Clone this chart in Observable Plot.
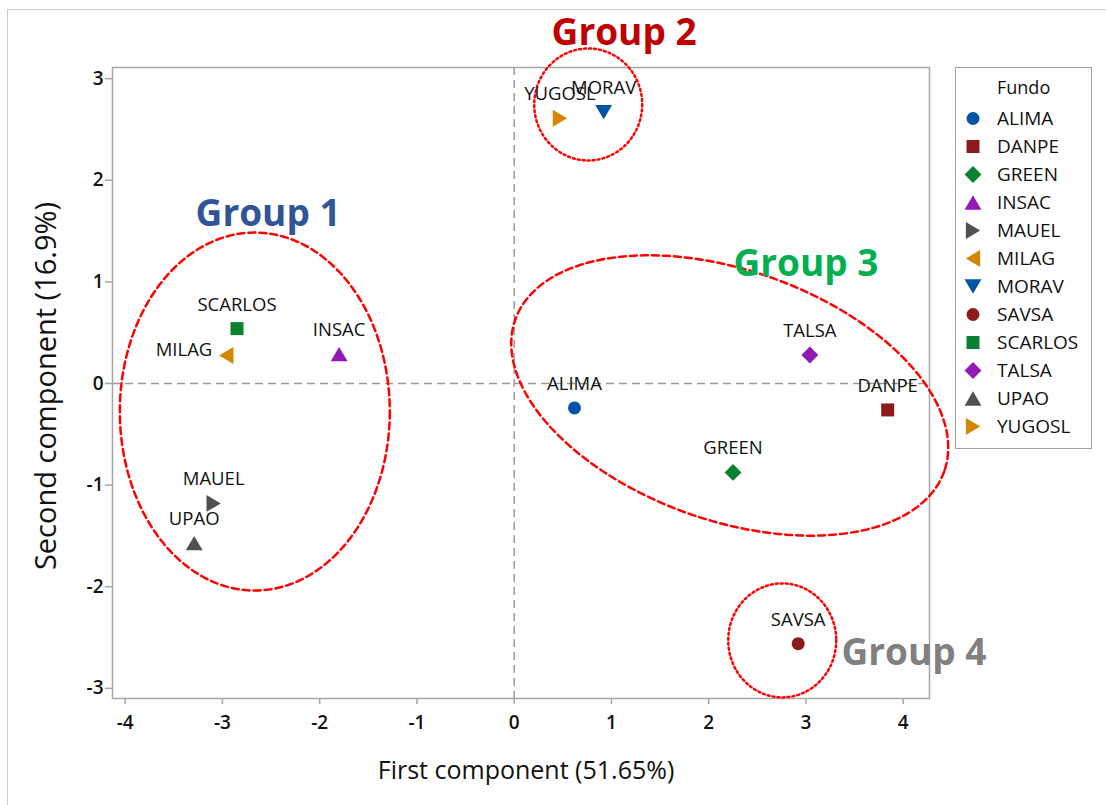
<!DOCTYPE html>
<html>
<head>
<meta charset="utf-8">
<script src="https://cdn.jsdelivr.net/npm/d3@7"></script>
<script src="https://cdn.jsdelivr.net/npm/@observablehq/plot@0.6"></script>
<style>
  body { margin: 0; background: #fff; width: 1106px; height: 805px; overflow: hidden; position: relative; font-family: "Open Sans", sans-serif; }
  #outer { position: absolute; left: 7px; top: 9px; width: 1200px; height: 900px; border-left: 1px solid #cfcfcf; border-top: 1px solid #cfcfcf; }
  #chart { position: absolute; left: 0; top: 0; }
  #legend { position: absolute; left: 955px; top: 67px; width: 135px; height: 380px; border: 1.5px solid #a0a0a0; background: #fff; }
  #legend svg, #chart svg { display: block; }
</style>
</head>
<body>
<div id="outer"></div>
<div id="chart"></div>
<div id="legend"></div>
<script>
// ---- data ----
const fundos = ["ALIMA","DANPE","GREEN","INSAC","MAUEL","MILAG","MORAV","SAVSA","SCARLOS","TALSA","UPAO","YUGOSL"];
const pc1 = [0.62, 3.84, 2.25, -1.80, -3.09, -2.96, 0.92, 2.92, -2.85, 3.04, -3.29, 0.47];
const pc2 = [-0.24, -0.26, -0.875, 0.29, -1.18, 0.275, 2.67, -2.56, 0.54, 0.28, -1.57, 2.61];
const xTicks = [-4, -3, -2, -1, 0, 1, 2, 3, 4];
const yTicks = [-3, -2, -1, 0, 1, 2, 3];
const groupNames = ["Group 1", "Group 2", "Group 3", "Group 4"];
const groupLabelX = [-2.53, 1.13, 3.0, 4.11];
const groupLabelY = [1.67, 3.445, 1.17, -2.65];

// ---- styles ----
const colors = ["#0054a6","#8e1b1b","#0b8030","#8f1ab5","#505050","#d18700","#0054a6","#8e1b1b","#0b8030","#8f1ab5","#505050","#d18700"];
const groupColors = ["#2f5597","#c00000","#00b050","#808080"];
const kinds = ["circle","square","diamond","up","right","left","down","circle","square","diamond","up","right"];

function sym(kind) {
  return { draw(ctx, size) {
    const r = Math.sqrt(size / Math.PI);
    if (kind === "circle") { ctx.moveTo(r, 0); ctx.arc(0, 0, r, 0, 2 * Math.PI); }
    else if (kind === "square") { ctx.rect(-r, -r, 2 * r, 2 * r); }
    else if (kind === "diamond") { const d = 1.3 * r; ctx.moveTo(0, -d); ctx.lineTo(d, 0); ctx.lineTo(0, d); ctx.lineTo(-d, 0); ctx.closePath(); }
    else {
      const s = 1.3 * r, h = 1.1 * r;
      if (kind === "up") { ctx.moveTo(0, -h); ctx.lineTo(s, h); ctx.lineTo(-s, h); }
      else if (kind === "down") { ctx.moveTo(0, h); ctx.lineTo(s, -h); ctx.lineTo(-s, -h); }
      else if (kind === "right") { ctx.moveTo(h, 0); ctx.lineTo(-h, -s); ctx.lineTo(-h, s); }
      else { ctx.moveTo(-h, 0); ctx.lineTo(h, -s); ctx.lineTo(h, s); }
      ctx.closePath();
    }
  }};
}
const symbols = kinds.map(sym);

const W = 1106, H = 805, mL = 112, mR = 177, mT = 67, mB = 107;
const xDomain = [-4.13, 4.27], yDomain = [-3.10, 3.11];
const kx = (W - mL - mR) / (xDomain[1] - xDomain[0]);
const ky = (H - mT - mB) / (yDomain[1] - yDomain[0]);

// ellipse annotations (centre in data units, semi-axes in px, angle in degrees)
const ellipses = [
  {g: 1, cx: -2.667, cy: -0.276, a: 135, b: 179, angle: 0, dotted: false},
  {g: 2, cx: 0.761, cy: 2.746, a: 54, b: 56, angle: 0, dotted: true},
  {g: 3, cx: 2.216, cy: -0.118, a: 227.5, b: 125, angle: 19.5, dotted: false},
  {g: 4, cx: 2.756, cy: -2.528, a: 54, b: 57, angle: 0, dotted: true}
];
function ellipsePts(e) {
  const th = e.angle * Math.PI / 180;
  return d3.range(0, 361, 2).map(deg => {
    const t = deg * Math.PI / 180;
    const px = e.a * Math.cos(t) * Math.cos(th) - e.b * Math.sin(t) * Math.sin(th);
    const py = e.a * Math.cos(t) * Math.sin(th) + e.b * Math.sin(t) * Math.cos(th);
    return {g: e.g, x: e.cx + px / kx, y: e.cy - py / ky};
  });
}
const dashedPts = ellipses.filter(e => !e.dotted).flatMap(ellipsePts);
const dottedPts = ellipses.filter(e => e.dotted).flatMap(ellipsePts);

const points = fundos.map((name, i) => ({name, x: pc1[i], y: pc2[i]}));
const groups = groupNames.map((name, i) => ({name, x: groupLabelX[i], y: groupLabelY[i], color: groupColors[i]}));

const symbolScale = {domain: fundos, range: symbols};
const colorScale = {domain: fundos, range: colors};

const chart = Plot.plot({
  width: W, height: H,
  marginLeft: mL, marginRight: mR, marginTop: mT, marginBottom: mB,
  style: {fontFamily: "'Open Sans', sans-serif", fontSize: "18px", color: "#111", background: "transparent"},
  x: {domain: xDomain, label: null},
  y: {domain: yDomain, label: null},
  symbol: symbolScale,
  color: colorScale,
  marks: [
    Plot.ruleX([0], {stroke: "#9a9a9a", strokeWidth: 1.5, strokeDasharray: "8,5"}),
    Plot.ruleY([0], {stroke: "#9a9a9a", strokeWidth: 1.5, strokeDasharray: "8,5"}),
    Plot.frame({stroke: "#a6a6a6", strokeWidth: 1.5}),
    Plot.axisX({ticks: xTicks, tickSize: 6, tickPadding: 11, stroke: "#a6a6a6", strokeWidth: 1.5, fill: "#111", fontSize: 19, fontWeight: 600, tickFormat: d => String(d)}),
    Plot.axisY({ticks: yTicks, tickSize: 7, tickPadding: 2, stroke: "#a6a6a6", strokeWidth: 1.5, fill: "#111", fontSize: 19, fontWeight: 600, tickFormat: d => String(d)}),
    Plot.line(dashedPts, {x: "x", y: "y", z: "g", stroke: "#ff0000", strokeWidth: 2.5, strokeDasharray: "7,4"}),
    Plot.line(dottedPts, {x: "x", y: "y", z: "g", stroke: "#ff0000", strokeWidth: 2.5, strokeDasharray: "2,3"}),
    Plot.dot(points, {x: "x", y: "y", symbol: "name", fill: "name", stroke: null, r: 6.5}),
    Plot.text(points.filter(d => d.name !== "MILAG"), {x: "x", y: "y", text: "name", dy: -24, fill: "#111", fontSize: 18.5}),
    Plot.text(points.filter(d => d.name === "MILAG"), {x: "x", y: "y", text: "name", dx: -14, dy: -5, textAnchor: "end", fill: "#111", fontSize: 18.5}),
    Plot.text(groups, {x: "x", y: "y", text: "name", fill: "color", fontSize: 37, fontWeight: "bold"}),
    Plot.text(["First component (51.65%)"], {frameAnchor: "bottom", dx: 5, dy: 80, fontSize: 25, fill: "#111"}),
    Plot.text(["Second component (16.9%)"], {frameAnchor: "left", dx: -66, dy: 3, rotate: -90, textAnchor: "middle", fontSize: 29, fill: "#111"})
  ]
});
document.getElementById("chart").append(chart);

const legend = Plot.plot({
  width: 135, height: 380, margin: 0,
  style: {fontFamily: "'Open Sans', sans-serif", fontSize: "19px", color: "#111", background: "transparent"},
  y: {type: "point", domain: fundos, range: [48.5, 359.5], padding: 0, axis: null},
  symbol: symbolScale,
  color: colorScale,
  marks: [
    Plot.text(["Fundo"], {frameAnchor: "top-left", dx: 40.5, dy: 19.5, textAnchor: "start", lineAnchor: "middle", fill: "#111", fontSize: 18}),
    Plot.dot(fundos, {y: d => d, symbol: d => d, fill: d => d, stroke: null, r: 6.5, frameAnchor: "left", dx: 16.5}),
    Plot.text(fundos, {y: d => d, text: d => d, frameAnchor: "left", dx: 40.5, textAnchor: "start", fill: "#111", fontSize: 19})
  ]
});
document.getElementById("legend").append(legend);
</script>
</body>
</html>
